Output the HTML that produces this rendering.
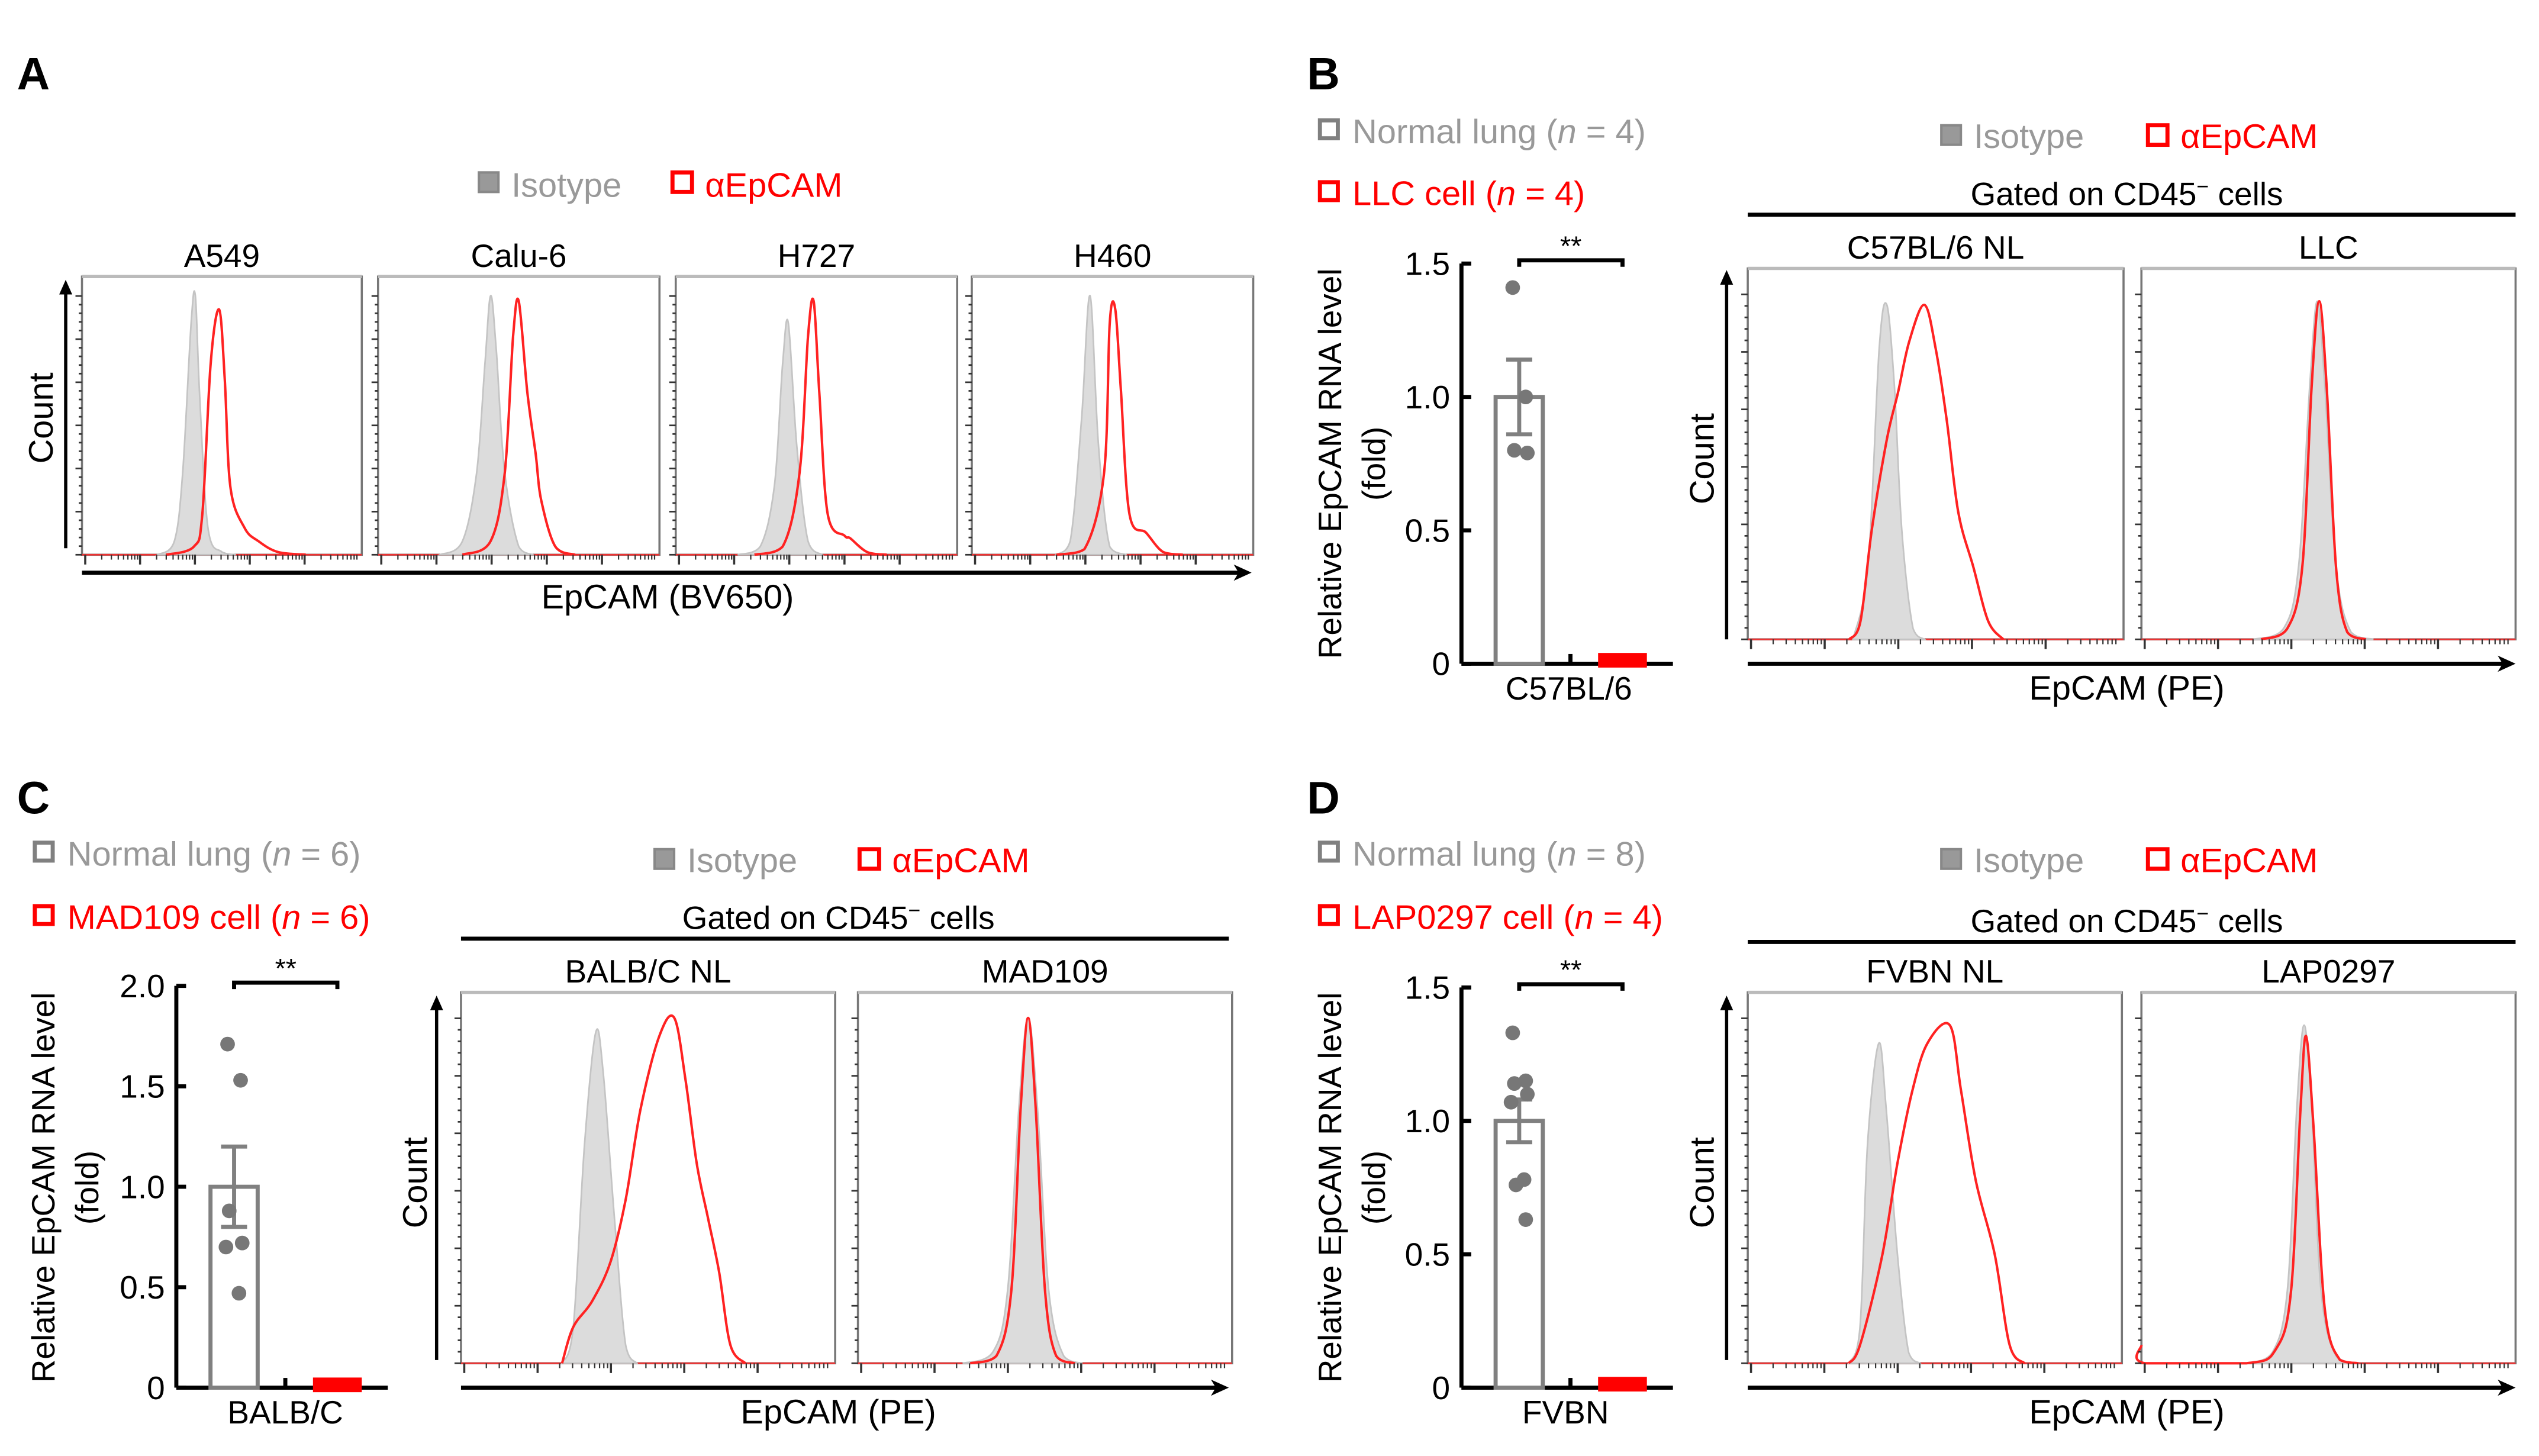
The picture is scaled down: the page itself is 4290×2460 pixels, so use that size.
<!DOCTYPE html>
<html><head><meta charset="utf-8">
<style>
html,body{margin:0;padding:0;background:#fff;}
svg{display:block;}
text{font-family:"Liberation Sans",Arial,sans-serif;}
</style></head>
<body>
<svg id="fig" width="4290" height="2460" viewBox="0 0 1560 895" xmlns="http://www.w3.org/2000/svg">
<rect width="1560" height="895" fill="#fff"/>
<g id="static">
  <text x="10" y="55" font-size="28" font-weight="bold">A</text>
  <text x="803" y="55" font-size="28" font-weight="bold">B</text>
  <text x="10" y="500" font-size="28" font-weight="bold">C</text>
  <text x="803" y="500" font-size="28" font-weight="bold">D</text>

  <g>
    <rect x="294" y="106" width="12" height="12" fill="#999" stroke="#888" stroke-width="1.5"/>
    <text x="314" y="121" font-size="21" fill="#999">Isotype</text>
    <rect x="413" y="106" width="12" height="12" fill="none" stroke="#f00" stroke-width="2.5"/>
    <text x="433" y="121" font-size="21" fill="#f00">αEpCAM</text>
  </g>
  <text transform="translate(32,257) rotate(-90)" text-anchor="middle" font-size="21">Count</text>
  <text x="410" y="374" text-anchor="middle" font-size="21">EpCAM (BV650)</text>

  <g>
    <rect x="811" y="74" width="11" height="11" fill="none" stroke="#808080" stroke-width="2.5"/>
    <text x="831" y="88" font-size="21" fill="#999">Normal lung  (<tspan font-style="italic">n</tspan> = 4)</text>
    <rect x="811" y="112" width="11" height="11" fill="none" stroke="#f00" stroke-width="2.5"/>
    <text x="831" y="126" font-size="21" fill="#f00">LLC cell  (<tspan font-style="italic">n</tspan> = 4)</text>
  </g>
  <g>
    <rect x="1193" y="77" width="12" height="12" fill="#999" stroke="#888" stroke-width="1.5"/>
    <text x="1213" y="91" font-size="21" fill="#999">Isotype</text>
    <rect x="1320" y="77" width="12" height="12" fill="none" stroke="#f00" stroke-width="2.5"/>
    <text x="1340" y="91" font-size="21" fill="#f00">αEpCAM</text>
  </g>
  <text x="1307" y="126" text-anchor="middle" font-size="20">Gated  on CD45<tspan dy="-7" font-size="13">−</tspan><tspan dy="7"> cells</tspan></text>
  <line x1="1074" y1="132" x2="1546" y2="132" stroke="#000" stroke-width="2.5"/>
  <text transform="translate(1053,282) rotate(-90)" text-anchor="middle" font-size="21">Count</text>
  <text x="1307" y="430" text-anchor="middle" font-size="21">EpCAM (PE)</text>
  <text transform="translate(824,285) rotate(-90)" text-anchor="middle" font-size="20">Relative  EpCAM RNA level</text>
  <text transform="translate(851,285) rotate(-90)" text-anchor="middle" font-size="20">(fold)</text>
  <text x="964" y="430" text-anchor="middle" font-size="20">C57BL/6</text>

  <g>
    <rect x="21" y="518" width="11" height="11" fill="none" stroke="#808080" stroke-width="2.5"/>
    <text x="41" y="532" font-size="21" fill="#999">Normal lung  (<tspan font-style="italic">n</tspan> = 6)</text>
    <rect x="21" y="557" width="11" height="11" fill="none" stroke="#f00" stroke-width="2.5"/>
    <text x="41" y="571" font-size="21" fill="#f00">MAD109  cell (<tspan font-style="italic">n</tspan> = 6)</text>
  </g>
  <g>
    <rect x="402" y="522" width="12" height="12" fill="#999" stroke="#888" stroke-width="1.5"/>
    <text x="422" y="536" font-size="21" fill="#999">Isotype</text>
    <rect x="528" y="522" width="12" height="12" fill="none" stroke="#f00" stroke-width="2.5"/>
    <text x="548" y="536" font-size="21" fill="#f00">αEpCAM</text>
  </g>
  <text x="515" y="571" text-anchor="middle" font-size="20">Gated  on CD45<tspan dy="-7" font-size="13">−</tspan><tspan dy="7"> cells</tspan></text>
  <line x1="283" y1="577" x2="755" y2="577" stroke="#000" stroke-width="2.5"/>
  <text transform="translate(262,727) rotate(-90)" text-anchor="middle" font-size="21">Count</text>
  <text x="515" y="875" text-anchor="middle" font-size="21">EpCAM (PE)</text>
  <text transform="translate(33,730) rotate(-90)" text-anchor="middle" font-size="20">Relative  EpCAM RNA level</text>
  <text transform="translate(60,730) rotate(-90)" text-anchor="middle" font-size="20">(fold)</text>
  <text x="175" y="875" text-anchor="middle" font-size="20">BALB/C</text>

  <g>
    <rect x="811" y="518" width="11" height="11" fill="none" stroke="#808080" stroke-width="2.5"/>
    <text x="831" y="532" font-size="21" fill="#999">Normal lung  (<tspan font-style="italic">n</tspan> = 8)</text>
    <rect x="811" y="557" width="11" height="11" fill="none" stroke="#f00" stroke-width="2.5"/>
    <text x="831" y="571" font-size="21" fill="#f00">LAP0297  cell  (<tspan font-style="italic">n</tspan> = 4)</text>
  </g>
  <g>
    <rect x="1193" y="522" width="12" height="12" fill="#999" stroke="#888" stroke-width="1.5"/>
    <text x="1213" y="536" font-size="21" fill="#999">Isotype</text>
    <rect x="1320" y="522" width="12" height="12" fill="none" stroke="#f00" stroke-width="2.5"/>
    <text x="1340" y="536" font-size="21" fill="#f00">αEpCAM</text>
  </g>
  <text x="1307" y="573" text-anchor="middle" font-size="20">Gated  on CD45<tspan dy="-7" font-size="13">−</tspan><tspan dy="7"> cells</tspan></text>
  <line x1="1074" y1="579" x2="1546" y2="579" stroke="#000" stroke-width="2.5"/>
  <text transform="translate(1053,727) rotate(-90)" text-anchor="middle" font-size="21">Count</text>
  <text x="1307" y="875" text-anchor="middle" font-size="21">EpCAM (PE)</text>
  <text transform="translate(824,730) rotate(-90)" text-anchor="middle" font-size="20">Relative  EpCAM RNA level</text>
  <text transform="translate(851,730) rotate(-90)" text-anchor="middle" font-size="20">(fold)</text>
  <text x="962" y="875" text-anchor="middle" font-size="20">FVBN</text>
</g>
<g id="dyn"></g>
</svg>
<script>
const histTitles = ["A549","Calu-6","H727","H460","C57BL/6 NL","LLC","BALB/C NL","MAD109","FVBN NL","LAP0297"];
const isoA549 = [[0.27,0],[0.33,0.05],[0.36,0.3],[0.39,0.85],[0.405,0.95],[0.42,0.6],[0.45,0.1],[0.5,0.01],[0.55,0]];
const redA549 = [[0.3,0],[0.4,0.03],[0.43,0.15],[0.46,0.7],[0.49,0.9],[0.51,0.65],[0.53,0.25],[0.58,0.1],[0.63,0.05],[0.7,0.01],[0.8,0]];
const isoCalu = [[0.22,0],[0.3,0.05],[0.35,0.3],[0.38,0.7],[0.40,0.95],[0.42,0.75],[0.45,0.3],[0.5,0.03],[0.55,0]];
const redCalu = [[0.3,0],[0.4,0.05],[0.45,0.3],[0.48,0.8],[0.50,0.93],[0.53,0.6],[0.56,0.37],[0.58,0.2],[0.63,0.03],[0.7,0]];
const isoH727 = [[0.22,0],[0.3,0.03],[0.35,0.25],[0.38,0.7],[0.40,0.85],[0.43,0.4],[0.47,0.05],[0.52,0]];
const redH727 = [[0.28,0],[0.38,0.03],[0.44,0.3],[0.47,0.8],[0.49,0.93],[0.51,0.6],[0.54,0.15],[0.6,0.07],[0.62,0.06],[0.68,0.01],[0.75,0]];
const isoH460 = [[0.3,0],[0.35,0.05],[0.39,0.5],[0.42,0.95],[0.45,0.4],[0.49,0.03],[0.55,0]];
const redH460 = [[0.3,0],[0.4,0.02],[0.47,0.3],[0.49,0.85],[0.51,0.9],[0.53,0.6],[0.56,0.15],[0.62,0.08],[0.68,0.01],[0.75,0]];
const isoC57 = [[0.28,0],[0.32,0.2],[0.35,0.8],[0.37,0.92],[0.39,0.7],[0.41,0.3],[0.44,0.03],[0.47,0]];
const redC57 = [[0.27,0],[0.3,0.05],[0.33,0.3],[0.37,0.55],[0.4,0.68],[0.43,0.82],[0.47,0.92],[0.5,0.8],[0.53,0.6],[0.56,0.35],[0.6,0.2],[0.64,0.05],[0.68,0]];
const isoLLC = [[0.3,0],[0.38,0.03],[0.42,0.2],[0.45,0.7],[0.47,0.93],[0.49,0.7],[0.52,0.2],[0.56,0.02],[0.62,0]];
const redLLC = [[0.32,0],[0.39,0.03],[0.43,0.2],[0.455,0.7],[0.475,0.93],[0.495,0.7],[0.52,0.2],[0.55,0.02],[0.6,0]];
const isoBALB = [[0.27,0],[0.3,0.1],[0.33,0.6],[0.36,0.91],[0.38,0.8],[0.41,0.4],[0.44,0.05],[0.47,0]];
const redBALB = [[0.27,0],[0.3,0.1],[0.35,0.17],[0.4,0.28],[0.44,0.45],[0.48,0.7],[0.53,0.9],[0.57,0.95],[0.6,0.78],[0.63,0.55],[0.66,0.4],[0.69,0.25],[0.72,0.05],[0.76,0]];
const isoMAD = [[0.28,0],[0.36,0.03],[0.4,0.2],[0.43,0.7],[0.455,0.95],[0.48,0.7],[0.51,0.2],[0.55,0.02],[0.6,0]];
const redMAD = [[0.3,0],[0.37,0.02],[0.41,0.2],[0.435,0.7],[0.455,0.95],[0.475,0.7],[0.5,0.2],[0.53,0.02],[0.58,0]];
const isoFVBN = [[0.27,0],[0.3,0.1],[0.32,0.6],[0.35,0.88],[0.37,0.7],[0.4,0.3],[0.43,0.03],[0.46,0]];
const redFVBN = [[0.27,0],[0.3,0.05],[0.36,0.3],[0.4,0.55],[0.44,0.75],[0.48,0.88],[0.54,0.93],[0.57,0.75],[0.61,0.5],[0.66,0.3],[0.7,0.05],[0.74,0]];
const isoLAP = [[0.28,0],[0.35,0.03],[0.39,0.2],[0.415,0.7],[0.435,0.93],[0.455,0.7],[0.48,0.2],[0.52,0.02],[0.58,0]];
const redLAP = [[0.0,0.05],[0.01,0],[0.28,0],[0.36,0.04],[0.4,0.2],[0.425,0.7],[0.44,0.9],[0.46,0.65],[0.49,0.15],[0.53,0.01],[0.58,0]];

const barGroups = ["C57BL/6","BALB/C","FVBN"];
const normalMeans = [1.0, 1.0, 1.0];
const normalSEM = [0.14, 0.2, 0.08];
const tumorMeans = [0.01, 0.01, 0.01];
const dotsB = [1.41, 1.0, 0.8, 0.79];
const dotsC = [1.71, 1.53, 0.88, 0.72, 0.7, 0.47];
const dotsD = [1.33, 1.15, 1.14, 1.1, 1.07, 0.78, 0.76, 0.63];
const yTicksB = [0, 0.5, 1.0, 1.5];
const yTickLabelsB = ["0","0.5","1.0","1.5"];
const yTicksC = [0, 0.5, 1.0, 1.5, 2.0];
const yTickLabelsC = ["0","0.5","1.0","1.5","2.0"];

const NS="http://www.w3.org/2000/svg";
const dyn=document.getElementById('dyn');
function el(tag,attrs,parent){const e=document.createElementNS(NS,tag);for(const k in attrs)e.setAttribute(k,attrs[k]);(parent||dyn).appendChild(e);return e;}

function curvePath(pts,box,closed){
  const xs=v=>box.x+v*box.w, ys=v=>box.y+box.h-v*box.h*0.98;
  let d='M'+xs(pts[0][0]).toFixed(1)+','+ys(pts[0][1]).toFixed(1);
  for(let i=1;i<pts.length;i++){
    const p0=pts[Math.max(0,i-2)],p1=pts[i-1],p2=pts[i],p3=pts[Math.min(pts.length-1,i+1)];
    const c1x=p1[0]+(p2[0]-p0[0])/6,c1y=p1[1]+(p2[1]-p0[1])/6;
    const c2x=p2[0]-(p3[0]-p1[0])/6,c2y=p2[1]-(p3[1]-p1[1])/6;
    d+=' C'+xs(c1x).toFixed(1)+','+ys(Math.max(0,c1y)).toFixed(1)+' '+xs(c2x).toFixed(1)+','+ys(Math.max(0,c2y)).toFixed(1)+' '+xs(p2[0]).toFixed(1)+','+ys(p2[1]).toFixed(1);
  }
  if(closed) d+=' L'+xs(pts[pts.length-1][0]).toFixed(1)+','+ys(0).toFixed(1)+' L'+xs(pts[0][0]).toFixed(1)+','+ys(0).toFixed(1)+' Z';
  return d;
}

function histPanel(box,title,iso,red){
  const g=el('g',{});
  
  
  el('rect',{x:box.x,y:box.y,width:box.w,height:box.h,fill:'#fff',stroke:'#777','stroke-width':1.3},g);
  el('line',{x1:box.x,y1:box.y,x2:box.x+box.w,y2:box.y,stroke:'#bbb','stroke-width':2},g);
  el('line',{x1:box.x,y1:box.y+box.h,x2:box.x+box.w,y2:box.y+box.h,stroke:'#e33','stroke-width':1},g);
  const ip=el('path',{d:curvePath(iso,box,true),fill:'#dcdcdc',stroke:'#c4c4c4','stroke-width':1},g);
  
  
  const rp=el('path',{d:curvePath(red,box,false),fill:'none',stroke:'#f22','stroke-width':1.5},g);
  
  
  for(let i=0;i<=30;i++){const y=box.y+box.h-i*box.h/30*0.93;const L=(i%5===0)?4:2;
    el('line',{x1:box.x-L,y1:y,x2:box.x,y2:y,stroke:'#333','stroke-width':1},g);}
  const decades=5, dw=box.w/decades*0.98;
  for(let d=0;d<decades;d++){for(let k=1;k<10;k++){const x=box.x+2+d*dw+Math.log10(k)*dw;
    el('line',{x1:x,y1:box.y+box.h,x2:x,y2:box.y+box.h+(k===1?6:3),stroke:'#333','stroke-width':k===1?1.3:0.8},g);}}
  const t=el('text',{x:box.x+box.w/2,y:box.y-6,'text-anchor':'middle','font-size':20},g);
  t.textContent=title;
  
  
}
function arrowV(x,y1,y2){el('line',{x1:x,y1:y1,x2:x,y2:y2+6,stroke:'#000','stroke-width':2});el('path',{d:`M${x-4},${y2+9} L${x},${y2} L${x+4},${y2+9} Z`,fill:'#000'});}
function arrowH(y,x1,x2){el('line',{x1:x1,y1:y,x2:x2-6,y2:y,stroke:'#000','stroke-width':2.5});el('path',{d:`M${x2-11},${y-5} L${x2},${y} L${x2-11},${y+5} L${x2-8},${y} Z`,fill:'#000'});}

const boxesA=[{x:50,w:172},{x:232,w:173},{x:415,w:173},{x:597,w:173}];
const isoA=[isoA549,isoCalu,isoH727,isoH460], redA=[redA549,redCalu,redH727,redH460];
boxesA.forEach((b,i)=>histPanel({x:b.x,y:170,w:b.w,h:171},histTitles[i],isoA[i],redA[i]));
arrowV(40,337,172); arrowH(352,50,769);
histPanel({x:1074,y:165,w:231,h:228},histTitles[4],isoC57,redC57);
histPanel({x:1316,y:165,w:230,h:228},histTitles[5],isoLLC,redLLC);
arrowV(1061,393,166); arrowH(408,1074,1546);
histPanel({x:283,y:610,w:230,h:228},histTitles[6],isoBALB,redBALB);
histPanel({x:527,y:610,w:230,h:228},histTitles[7],isoMAD,redMAD);
arrowV(268,836,612); arrowH(853,283,755);
histPanel({x:1074,y:610,w:230,h:228},histTitles[8],isoFVBN,redFVBN);
histPanel({x:1316,y:610,w:230,h:228},histTitles[9],isoLAP,redLAP);
arrowV(1061,836,612); arrowH(853,1074,1546);

function barChart(o,gi,dots,ticks,tickLabels){
  const yS=v=>o.y0-(v/o.ymax)*(o.y0-o.ytop);
  const g=el('g',{});
  
  
  el('line',{x1:o.ax,y1:o.ytop,x2:o.ax,y2:o.y0,stroke:'#000','stroke-width':2.5},g);
  el('line',{x1:o.ax,y1:o.y0,x2:o.ax+130,y2:o.y0,stroke:'#000','stroke-width':2.5},g);
  el('line',{x1:o.ax+67,y1:o.y0,x2:o.ax+67,y2:o.y0-6,stroke:'#000','stroke-width':2.5},g);
  ticks.forEach((v,i)=>{
    el('line',{x1:o.ax,y1:yS(v),x2:o.ax+6,y2:yS(v),stroke:'#000','stroke-width':2.5},g);
    const t=el('text',{x:o.ax-7,y:yS(v)+7,'text-anchor':'end','font-size':20},g);
    t.textContent=tickLabels[i];
    
    
  });
  const bx=o.ax+21,bw=29;
  const b=el('rect',{x:bx,y:yS(normalMeans[gi]),width:bw,height:o.y0-yS(normalMeans[gi]),fill:'#fff',stroke:'#808080','stroke-width':2.5},g);
  
  
  const cx=bx+bw/2;
  el('line',{x1:cx,y1:yS(normalMeans[gi]+normalSEM[gi]),x2:cx,y2:yS(normalMeans[gi]-normalSEM[gi]),stroke:'#808080','stroke-width':2.5},g);
  [normalMeans[gi]+normalSEM[gi],normalMeans[gi]-normalSEM[gi]].forEach(v=>el('line',{x1:cx-8,y1:yS(v),x2:cx+8,y2:yS(v),stroke:'#808080','stroke-width':2.5},g));
  const jit=[-4,4,-3,5,-5,3,-2,4];
  dots.forEach((v,i)=>{const c=el('circle',{cx:cx+jit[i%8],cy:yS(v),r:4.5,fill:'#777'},g);
    
    });
  const rb=el('rect',{x:o.ax+84,y:yS(tumorMeans[gi])-5,width:30,height:9,fill:'#f00'},g);
  
  
  const sy=o.ytop-2;
  el('path',{d:`M${cx},${sy+4} L${cx},${sy} L${o.ax+99},${sy} L${o.ax+99},${sy+4}`,fill:'none',stroke:'#000','stroke-width':2.5},g);
  const s=el('text',{x:(cx+o.ax+99)/2,y:sy-3,'text-anchor':'middle','font-size':17},g);
  s.textContent='**';
  
  
}
barChart({ax:898,y0:408,ytop:162,ymax:1.5},0,dotsB,yTicksB,yTickLabelsB);
barChart({ax:108,y0:853,ytop:606,ymax:2.0},1,dotsC,yTicksC,yTickLabelsC);
barChart({ax:898,y0:853,ytop:607,ymax:1.5},2,dotsD,yTicksB,yTickLabelsB);
</script>
</body></html>
